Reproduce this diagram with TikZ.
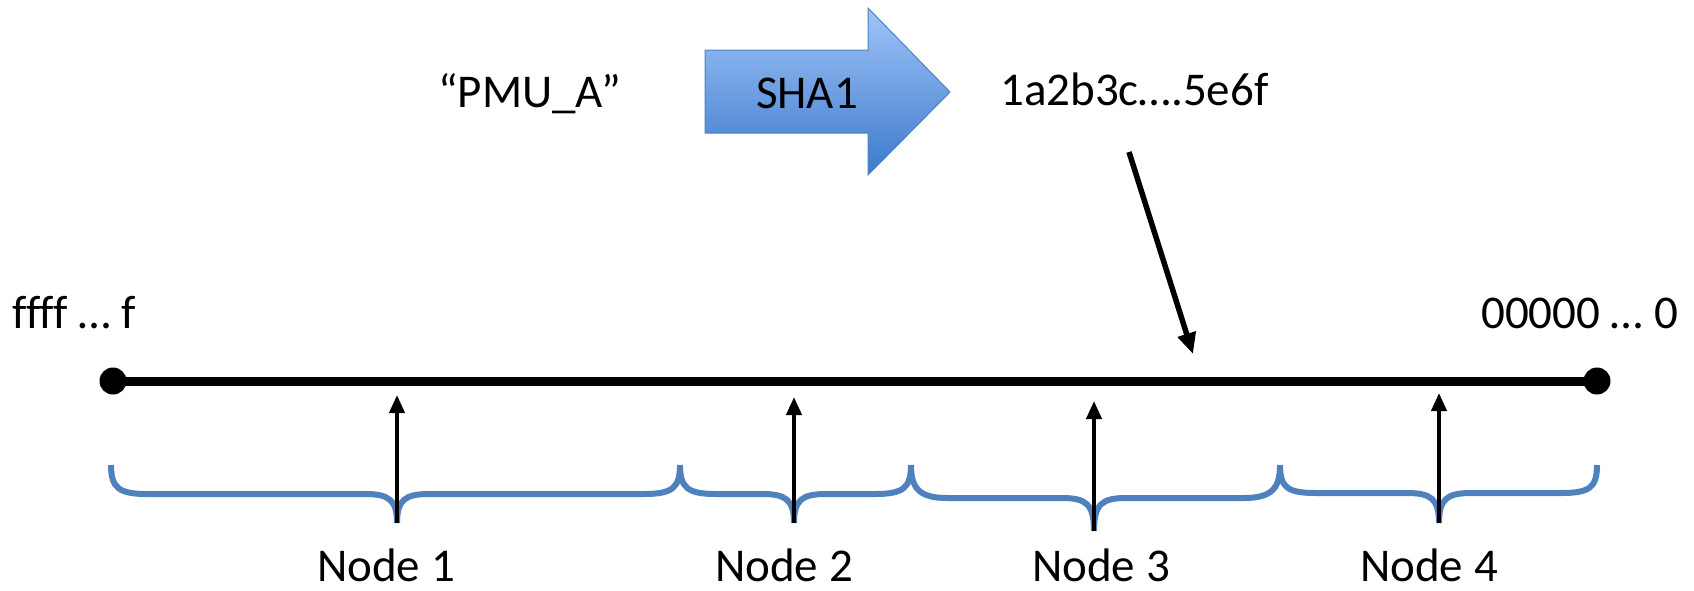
\documentclass[tikz,border=0pt]{standalone}
\usepackage{fontspec}
\setmainfont{Carlito}[Ligatures=NoCommon]
\usetikzlibrary{arrows.meta}
\definecolor{bracecol}{RGB}{79,129,189}
\definecolor{shatop}{RGB}{160,196,248}
\definecolor{shabot}{RGB}{60,122,204}
\definecolor{shaborder}{RGB}{80,130,190}
\newcommand{\hbrace}[5]{%
  \draw[bracesty] (#1,465) .. controls (#1,488) and (#1+8,#4) .. (#1+36,#4)
    -- (#2-32,#4) .. controls (#2-8,#4) and (#2,#4+6) .. (#2,#5)
    .. controls (#2,#4+6) and (#2+8,#4) .. (#2+32,#4)
    -- (#3-36,#4) .. controls (#3-8,#4) and (#3,488) .. (#3,465);}
\begin{document}
\begin{tikzpicture}[x=1pt,y=-1pt,
  font=\fontsize{47}{56}\selectfont,
  lbl/.style={inner sep=0pt},
  bracesty/.style={draw=bracecol, line width=6pt},
  mainline/.style={line width=9pt},
  dotsty/.style={circle, fill=black, inner sep=0pt, minimum size=27pt},
  uparrow/.style={line width=4pt, -{Triangle[length=18pt,width=15pt]}},
  diagarrow/.style={line width=5.5pt, -{Triangle[length=21pt,width=18pt]}}]
\useasboundingbox (0,0) rectangle (1694,590);

% SHA1 block arrow
\path[draw=shaborder, line width=1pt, top color=shatop, bottom color=shabot]
  (705,50) -- (868,50) -- (868,8) -- (950,92) -- (868,175) -- (868,133) -- (705,133) -- cycle;
\node[lbl, anchor=base] (sha) at (807,108) {SHA1};

% texts
\node[lbl, anchor=base west] (pmu) at (438,107) {“PMU\_A”};
\node[lbl, anchor=base west] (hash) at (1000,105) {1a2b3c….5e6f};
\node[lbl, anchor=base west] (ff) at (12,328) {ffff … f};
\node[lbl, anchor=base east] (zz) at (1678,328) {00000 … 0};

% main line
\coordinate (L) at (113,381);
\coordinate (R) at (1597,381);
\draw[mainline] (L) -- (R);
\node[dotsty] (Ld) at (L) {};
\node[dotsty] (Rd) at (R) {};

% diagonal arrow
\coordinate (h0) at (1129,152);
\coordinate (h1) at (1193,354);
\draw[diagarrow] (h0) -- (h1);

% braces
\hbrace{111}{397}{680}{494}{523}
\hbrace{680}{794}{911}{494}{523}
\hbrace{911}{1094}{1280}{498}{531}
\hbrace{1280}{1439}{1597}{493}{523}

% vertical arrows
\coordinate (b1) at (397,523); \coordinate (a1) at (397,395);
\coordinate (b2) at (794,523); \coordinate (a2) at (794,397);
\coordinate (b3) at (1094,531); \coordinate (a3) at (1094,401);
\coordinate (b4) at (1439,523); \coordinate (a4) at (1439,393);
\draw[uparrow] (b1) -- (a1);
\draw[uparrow] (b2) -- (a2);
\draw[uparrow] (b3) -- (a3);
\draw[uparrow] (b4) -- (a4);

% node labels
\node[lbl, anchor=base] (n1) at (386,581) {Node 1};
\node[lbl, anchor=base] (n2) at (784,581) {Node 2};
\node[lbl, anchor=base] (n3) at (1101,581) {Node 3};
\node[lbl, anchor=base] (n4) at (1429,581) {Node 4};
\end{tikzpicture}
\end{document}
